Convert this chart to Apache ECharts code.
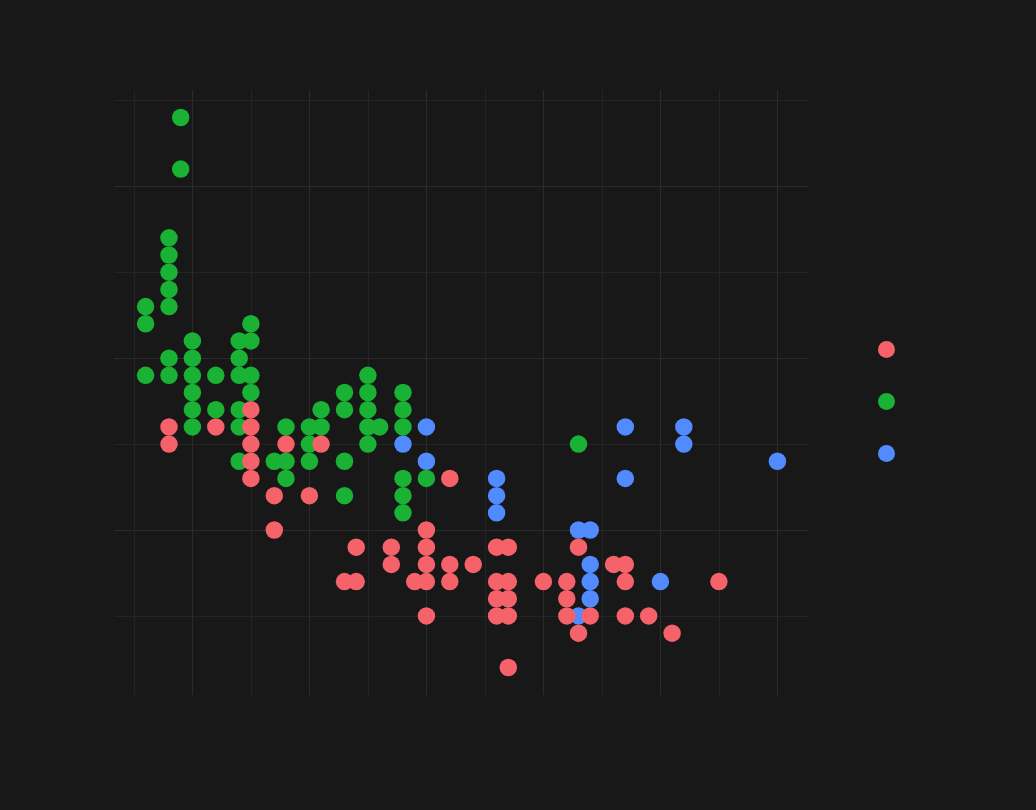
<!DOCTYPE html>
<html>
<head>
<meta charset="utf-8">
<style>
html, body { margin: 0; padding: 0; background: #181818; }
#main { width: 1036px; height: 810px; }
</style>
<script src="https://cdn.jsdelivr.net/npm/echarts@6/dist/echarts.min.js"></script>
</head>
<body>
<div id="main"></div>
<script>
// drive types, in legend order
const drvNames = ['4', 'f', 'r']
const drvColors = ['#F5626A', '#19B234', '#528BFF']

// [displ, hwy]
const pts4 = [
  [1.8, 26], [1.8, 25], [2.2, 26], [2.5, 27], [2.5, 26], [2.5, 25], [2.5, 24], [2.5, 23],
  [2.7, 22], [2.7, 20], [2.8, 25], [3.0, 22], [3.1, 25], [3.3, 17], [3.4, 19], [3.4, 17],
  [3.7, 19], [3.7, 18], [3.9, 17], [4.0, 20], [4.0, 19], [4.0, 18], [4.0, 17], [4.0, 15],
  [4.2, 23], [4.2, 18], [4.2, 17], [4.4, 18], [4.6, 19], [4.6, 17], [4.6, 16], [4.6, 15],
  [4.7, 19], [4.7, 17], [4.7, 16], [4.7, 15], [4.7, 12], [5.0, 17], [5.2, 17], [5.2, 16],
  [5.2, 15], [5.3, 19], [5.3, 14], [5.4, 15], [5.6, 18], [5.7, 18], [5.7, 17], [5.7, 15],
  [5.9, 15], [6.1, 14], [6.5, 17]
]
const ptsF = [
  [1.9, 44], [1.9, 41], [1.8, 37], [1.8, 36], [1.8, 35], [1.8, 34], [1.8, 33], [1.8, 30],
  [1.8, 29], [1.6, 33], [1.6, 32], [1.6, 29], [2.0, 31], [2.0, 30], [2.0, 29], [2.0, 28],
  [2.0, 27], [2.0, 26], [2.2, 29], [2.2, 27], [2.4, 31], [2.4, 30], [2.4, 29], [2.4, 27],
  [2.4, 26], [2.4, 24], [2.5, 32], [2.5, 31], [2.5, 29], [2.5, 28], [2.7, 24], [2.8, 26],
  [2.8, 24], [2.8, 23], [3.0, 26], [3.0, 25], [3.0, 24], [3.1, 27], [3.1, 26], [3.3, 28],
  [3.3, 27], [3.3, 24], [3.3, 22], [3.5, 29], [3.5, 28], [3.5, 27], [3.5, 26], [3.5, 25],
  [3.6, 26], [3.8, 28], [3.8, 27], [3.8, 26], [3.8, 23], [3.8, 22], [3.8, 21], [4.0, 23],
  [5.3, 25]
]
const ptsR = [
  [3.8, 25], [4.0, 26], [4.0, 24], [4.6, 23], [4.6, 22], [4.6, 21], [5.3, 20], [5.4, 20],
  [5.4, 18], [5.4, 17], [5.4, 16], [5.3, 15], [5.7, 26], [5.7, 23], [6.0, 17], [6.2, 26],
  [6.2, 25], [7.0, 24]
]

// grid breaks
const xMajor = [2, 3, 4, 5, 6, 7]
const xMinor = [1.5, 2.5, 3.5, 4.5, 5.5, 6.5]
const yMajor = [20, 30, 40]
const yMinor = [15, 25, 35, 45]

const xRange = [1.33, 7.27]
const yRange = [10.4, 45.6]

function gridAxis(range, values, color, width) {
  return {
    type: 'value',
    min: range[0],
    max: range[1],
    axisLine: { show: false },
    axisTick: { show: false, customValues: values },
    axisLabel: { show: false, customValues: values },
    splitLine: { show: true, lineStyle: { color: color, width: width } }
  }
}

const chart = echarts.init(document.getElementById('main'))

const seriesData = [ptsR, ptsF, pts4]
const seriesIdx = [2, 1, 0] // draw r under f under 4

chart.setOption({
  backgroundColor: '#181818',
  animation: false,
  grid: { left: 114, right: 227, top: 90, bottom: 115 },
  xAxis: [
    gridAxis(xRange, xMajor, '#2b2b2b', 1.2),
    gridAxis(xRange, xMinor, '#242424', 1)
  ],
  yAxis: [
    gridAxis(yRange, yMajor, '#2b2b2b', 1.2),
    gridAxis(yRange, yMinor, '#242424', 1)
  ],
  legend: {
    data: drvNames,
    orient: 'vertical',
    left: 873,
    top: 336,
    itemWidth: 17,
    itemHeight: 17,
    itemGap: 35,
    icon: 'circle',
    formatter: () => '',
    textStyle: { fontSize: 10, padding: 0 },
    selectedMode: false
  },
  series: seriesIdx.map((k, i) => ({
    name: drvNames[k],
    type: 'scatter',
    xAxisIndex: 0,
    yAxisIndex: 0,
    symbolSize: 17.5,
    itemStyle: { color: drvColors[k], opacity: 1 },
    emphasis: { disabled: true },
    data: seriesData[i]
  }))
})
</script>
</body>
</html>
